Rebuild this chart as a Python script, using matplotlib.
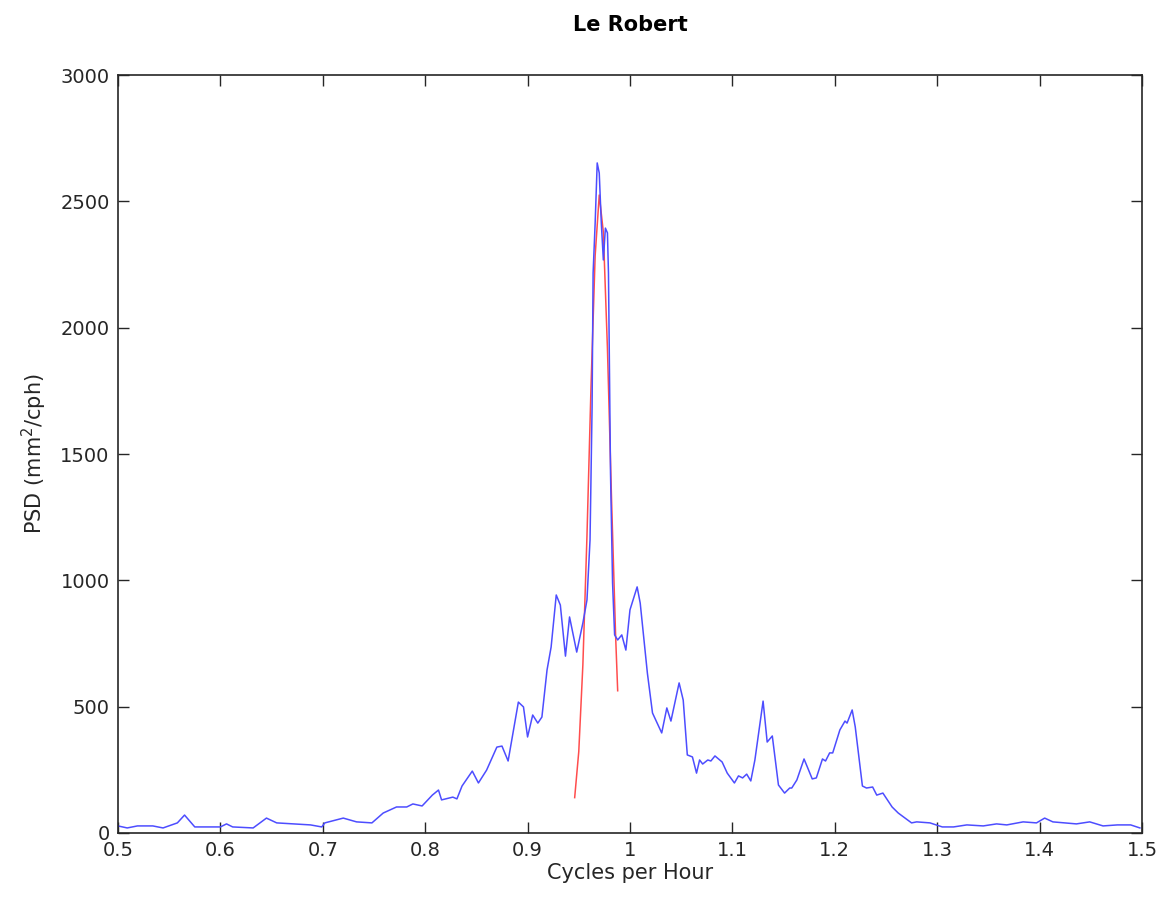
import numpy as np
import matplotlib
matplotlib.use('Agg')
import matplotlib.pyplot as plt
from matplotlib.ticker import FormatStrFormatter

freq = [0.500, 0.509, 0.519, 0.534, 0.544, 0.558, 0.565, 0.575, 0.600, 0.606,
        0.612, 0.632, 0.645, 0.655, 0.688, 0.699, 0.702, 0.720, 0.733, 0.748,
        0.759, 0.772, 0.782, 0.788, 0.797, 0.807, 0.813, 0.816, 0.827, 0.831,
        0.836, 0.846, 0.852, 0.860, 0.870, 0.875, 0.881, 0.891, 0.896, 0.900,
        0.905, 0.910, 0.914, 0.919, 0.923, 0.928, 0.932, 0.937, 0.941, 0.948,
        0.954, 0.958, 0.960, 0.961, 0.963, 0.964, 0.966, 0.968, 0.970, 0.972,
        0.974, 0.976, 0.978, 0.979, 0.980, 0.981, 0.983, 0.985, 0.988, 0.992,
        0.996, 1.000, 1.007, 1.010, 1.017, 1.022, 1.027, 1.031, 1.036, 1.040,
        1.048, 1.052, 1.056, 1.061, 1.065, 1.068, 1.071, 1.076, 1.079, 1.083,
        1.090, 1.095, 1.102, 1.106, 1.110, 1.114, 1.118, 1.122, 1.130, 1.134,
        1.139, 1.145, 1.151, 1.156, 1.158, 1.163, 1.170, 1.178, 1.182, 1.188,
        1.191, 1.195, 1.198, 1.205, 1.210, 1.212, 1.217, 1.220, 1.227, 1.231,
        1.237, 1.241, 1.247, 1.256, 1.262, 1.275, 1.280, 1.293, 1.305, 1.316,
        1.329, 1.345, 1.358, 1.368, 1.384, 1.397, 1.405, 1.413, 1.436, 1.449,
        1.462, 1.476, 1.489, 1.498]
psd = [28, 20, 28, 28, 20, 40, 71, 24, 24, 36,
       24, 20, 59, 40, 32, 24, 40, 59, 44, 40,
       79, 103, 103, 115, 107, 150, 170, 131, 142, 135,
       186, 245, 198, 249, 340, 344, 285, 518, 499, 380,
       467, 435, 459, 645, 736, 942, 902, 700, 855, 716,
       831, 922, 1080, 1160, 1686, 2216, 2414, 2652, 2612, 2414,
       2268, 2394, 2375, 2216, 1821, 1425, 990, 784, 764, 784,
       724, 883, 974, 910, 633, 475, 431, 396, 495, 443,
       594, 526, 309, 301, 237, 289, 273, 289, 285, 305,
       281, 237, 198, 226, 218, 233, 206, 289, 522, 360,
       384, 190, 158, 178, 178, 210, 293, 214, 218, 293,
       285, 317, 317, 408, 443, 435, 487, 420, 186, 178,
       182, 150, 158, 103, 79, 40, 44, 40, 24, 24,
       32, 28, 36, 32, 44, 40, 59, 44, 36, 44,
       28, 32, 32, 20]

# fitted peak (red)
fit_freq = [0.946, 0.950, 0.954, 0.958, 0.962, 0.966, 0.970, 0.974, 0.978,
            0.982, 0.986, 0.988]
fit_psd = [140, 322, 665, 1175, 1773, 2285, 2525, 2378, 1917, 1321, 778, 563]

fig = plt.figure(figsize=(11.74, 9.08), dpi=100)
ax = fig.add_axes([0.1005, 0.0826, 0.8722, 0.8348])

ax.plot(fit_freq, fit_psd, color=(1, 0.3, 0.3), lw=1.1)
ax.plot(freq, psd, color=(0.3, 0.3, 1), lw=1.1)

ax.set_xlim(0.5, 1.5)
ax.set_ylim(0, 3000)
ax.set_xticks(np.arange(0.5, 1.51, 0.1))
ax.set_yticks(np.arange(0, 3001, 500))
ax.xaxis.set_major_formatter(FormatStrFormatter('%g'))
ax.tick_params(direction='in', top=True, right=True, length=8, width=1,
               labelsize=14, pad=6, colors='#262626')
for s in ax.spines.values():
    s.set_linewidth(1.2)
    s.set_color('#262626')

ax.set_xlabel('Cycles per Hour', fontsize=15, labelpad=2, color='#262626')
ax.set_ylabel('PSD (mm$^2$/cph)', fontsize=15, labelpad=8, color='#262626')
ax.set_title('Le Robert', fontsize=15, fontweight='bold', pad=32)

fig.savefig('out.png', dpi=100)
